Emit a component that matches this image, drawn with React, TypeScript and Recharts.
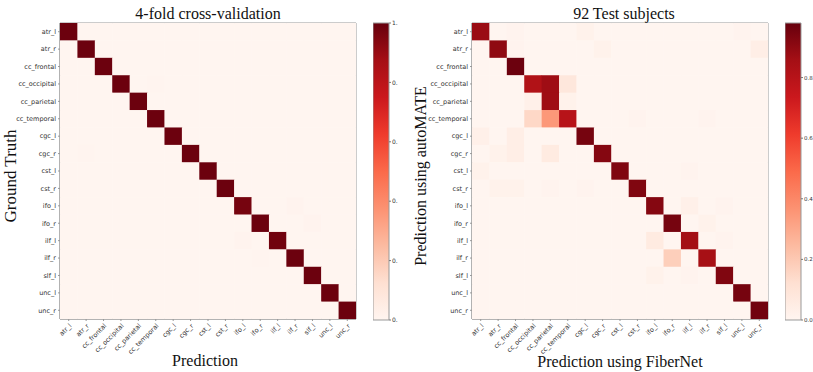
import { ScatterChart, Scatter, XAxis, YAxis, ReferenceArea, BarChart, Bar } from 'recharts';

const labels = ['atr_l', 'atr_r', 'cc_frontal', 'cc_occipital', 'cc_parietal', 'cc_temporal', 'cgc_l', 'cgc_r', 'cst_l', 'cst_r', 'ifo_l', 'ifo_r', 'ilf_l', 'ilf_r', 'slf_l', 'unc_l', 'unc_r'];

// rows = ground truth, columns = prediction
const cvMatrix = [
  [0.99, 0, 0, 0, 0, 0, 0, 0, 0, 0, 0, 0, 0, 0, 0, 0, 0],
  [0, 0.99, 0, 0, 0, 0, 0, 0, 0, 0, 0, 0, 0, 0, 0, 0, 0],
  [0, 0, 0.99, 0, 0, 0, 0, 0, 0, 0, 0, 0, 0, 0, 0, 0, 0],
  [0, 0, 0, 0.99, 0, 0.005, 0, 0, 0, 0, 0, 0, 0, 0, 0, 0, 0],
  [0, 0, 0, 0, 0.99, 0, 0, 0, 0, 0, 0, 0, 0, 0, 0, 0, 0],
  [0, 0, 0, 0, 0, 0.99, 0, 0, 0, 0, 0, 0, 0, 0, 0, 0, 0],
  [0, 0, 0, 0, 0, 0, 0.99, 0, 0, 0, 0, 0, 0, 0, 0, 0, 0],
  [0, 0.005, 0, 0, 0, 0, 0, 0.99, 0, 0, 0, 0, 0, 0, 0, 0, 0],
  [0, 0, 0, 0, 0, 0, 0, 0, 0.99, 0, 0, 0, 0, 0, 0, 0, 0],
  [0, 0, 0, 0, 0, 0, 0, 0, 0, 0.99, 0, 0, 0, 0, 0, 0, 0],
  [0, 0, 0, 0, 0, 0, 0, 0, 0, 0, 0.97, 0, 0, 0.01, 0, 0, 0],
  [0, 0, 0, 0, 0, 0, 0, 0, 0, 0, 0, 0.99, 0, 0, 0.01, 0, 0],
  [0, 0, 0, 0, 0, 0, 0, 0, 0, 0, 0.01, 0, 0.98, 0, 0, 0, 0],
  [0, 0, 0, 0, 0, 0, 0, 0, 0, 0, 0, 0.005, 0, 0.99, 0, 0, 0],
  [0, 0, 0, 0, 0, 0, 0, 0, 0, 0, 0, 0, 0, 0, 0.99, 0, 0],
  [0, 0, 0, 0, 0, 0, 0, 0, 0, 0, 0, 0, 0, 0, 0, 0.99, 0],
  [0, 0, 0, 0, 0, 0, 0, 0, 0, 0, 0, 0, 0, 0, 0, 0, 0.99],
];

// rows = autoMATE, columns = FiberNet
const testMatrix = [
  [0.88, 0, 0.01, 0, 0, 0, 0.02, 0, 0, 0, 0, 0, 0, 0, 0, 0.01, 0],
  [0, 0.9, 0.01, 0, 0, 0, 0, 0.02, 0, 0, 0, 0, 0, 0, 0, 0, 0.04],
  [0, 0, 0.97, 0, 0, 0, 0, 0, 0, 0, 0, 0, 0, 0, 0, 0, 0],
  [0, 0, 0, 0.82, 0.87, 0.08, 0, 0, 0, 0, 0, 0, 0, 0, 0, 0, 0],
  [0, 0, 0, 0.03, 0.87, 0.02, 0, 0, 0, 0, 0, 0, 0, 0, 0, 0, 0],
  [0, 0, 0, 0.15, 0.35, 0.8, 0, 0, 0, 0.01, 0, 0, 0, 0.01, 0, 0, 0],
  [0.03, 0, 0.04, 0, 0, 0, 0.95, 0, 0, 0, 0, 0, 0, 0, 0, 0, 0],
  [0, 0.02, 0.04, 0, 0.06, 0, 0, 0.92, 0, 0, 0, 0, 0, 0, 0, 0, 0],
  [0.02, 0, 0, 0, 0, 0, 0, 0, 0.93, 0, 0, 0, 0.01, 0, 0, 0, 0],
  [0, 0.02, 0.02, 0, 0.01, 0, 0.01, 0, 0, 0.93, 0, 0, 0, 0, 0, 0, 0],
  [0, 0, 0, 0, 0, 0, 0, 0, 0, 0, 0.92, 0, 0.03, 0, 0.01, 0, 0],
  [0, 0, 0, 0, 0, 0, 0, 0, 0, 0, 0, 0.95, 0, 0.02, 0, 0, 0],
  [0, 0, 0, 0, 0, 0, 0, 0, 0, 0, 0.06, 0, 0.86, 0, 0.01, 0, 0],
  [0, 0, 0, 0, 0, 0, 0, 0, 0, 0, 0, 0.18, 0, 0.85, 0, 0, 0],
  [0, 0, 0, 0, 0, 0, 0, 0, 0, 0, 0.02, 0, 0.01, 0, 0.93, 0, 0],
  [0, 0, 0, 0, 0, 0, 0, 0, 0, 0, 0, 0, 0, 0, 0, 0.95, 0],
  [0, 0, 0, 0, 0, 0, 0, 0, 0, 0, 0, 0, 0, 0, 0, 0, 0.96],
];

const cvMax = 1;
const testMax = 0.98;
const cvBarTicks = [0, 0.2, 0.4, 0.6, 0.8, 1];
const testBarTicks = [0, 0.2, 0.4, 0.6, 0.8];
const indexTicks = labels.map((_, i) => i);

// matplotlib "Reds"
const reds = ['#fff5f0', '#fee0d2', '#fcbba1', '#fc9272', '#fb6a4a', '#ef3b2c', '#cb181d', '#a50f15', '#67000d'];

const hex = (c) => [1, 3, 5].map((i) => parseInt(c.slice(i, i + 2), 16));
const redsAt = (t) => {
  const x = Math.max(0, Math.min(1, t)) * (reds.length - 1);
  const i = Math.min(Math.floor(x), reds.length - 2);
  const f = x - i;
  const a = hex(reds[i]);
  const b = hex(reds[i + 1]);
  return `rgb(${a.map((v, k) => Math.round(v + (b[k] - v) * f)).join(',')})`;
};

const PLOT = 296;
const CELL = PLOT / labels.length;
const tickStyle = { fontSize: 6.5, fill: '#333', fontFamily: 'DejaVu Sans' };
const serif = { position: 'absolute', fontFamily: '"Times New Roman", "Liberation Serif", Times, serif', fontSize: 16, color: '#111', whiteSpace: 'nowrap' } as const;

const toCells = (matrix) =>
  matrix.flatMap((row, r) => row.map((v, c) => ({ x: c, y: r, v })));

const Heatmap = ({ matrix, max }) => {
  const cells = toCells(matrix);
  return (
    <ScatterChart width={360} height={372} margin={{ top: 23, right: 4, bottom: 0, left: 0 }}>
      <XAxis
        type="number"
        dataKey="x"
        domain={[-0.5, 16.5]}
        allowDataOverflow
        ticks={indexTicks}
        interval={0}
        tickFormatter={(i) => labels[i]}
        angle={-45}
        textAnchor="end"
        height={53}
        tick={tickStyle}
        tickSize={2}
        stroke="#999"
      />
      <YAxis
        type="number"
        dataKey="y"
        reversed
        domain={[-0.5, 16.5]}
        allowDataOverflow
        ticks={indexTicks}
        interval={0}
        tickFormatter={(i) => labels[i]}
        width={60}
        tick={tickStyle}
        tickSize={2}
        stroke="#999"
      />
      <Scatter
        data={cells}
        isAnimationActive={false}
        shape={(p) => (
          <rect
            x={p.cx - CELL / 2}
            y={p.cy - CELL / 2}
            width={CELL + 0.4}
            height={CELL + 0.4}
            fill={redsAt(p.payload.v / max)}
          />
        )}
      />
      <ReferenceArea x1={-0.5} x2={16.5} y1={-0.5} y2={16.5} fill="none" stroke="#999" strokeWidth={1} ifOverflow="visible" />
    </ScatterChart>
  );
};

const Colorbar = ({ id, max, ticks, fmt, width, fontSize }) => (
  <BarChart width={width} height={372} data={[{ v: max }]} margin={{ top: 23, right: 0, bottom: 52, left: 0 }} barCategoryGap={0}>
    <defs>
      <linearGradient id={id} x1="0" y1="1" x2="0" y2="0">
        {reds.map((c, i) => (
          <stop key={i} offset={i / (reds.length - 1)} stopColor={c} />
        ))}
      </linearGradient>
    </defs>
    <XAxis hide />
    <YAxis
      orientation="right"
      domain={[0, max]}
      ticks={ticks}
      interval={0}
      tickFormatter={fmt}
      width={width - 16}
      tick={{ fontSize, fill: '#333', fontFamily: 'DejaVu Sans' }}
      tickSize={2}
      tickMargin={1}
      axisLine={false}
      stroke="#777"
    />
    <Bar dataKey="v" fill={`url(#${id})`} stroke="#999" strokeWidth={1} isAnimationActive={false} />
  </BarChart>
);

export default function App() {
  return (
    <div style={{ position: 'absolute', left: 0, top: 0, width: 813, height: 372, overflow: 'hidden', background: '#fff' }}>
      <div style={{ position: 'absolute', left: 0, top: 0 }}>
        <Heatmap matrix={cvMatrix} max={cvMax} />
      </div>
      <div style={{ position: 'absolute', left: 373, top: 0 }}>
        <Colorbar id="cvGrad" max={cvMax} ticks={cvBarTicks} fmt={(v) => (v === 1 ? '1.' : '0.')} width={40} fontSize={6} />
      </div>
      <div style={{ position: 'absolute', left: 412, top: 0 }}>
        <Heatmap matrix={testMatrix} max={testMax} />
      </div>
      <div style={{ position: 'absolute', left: 785, top: 0 }}>
        <Colorbar id="testGrad" max={testMax} ticks={testBarTicks} fmt={(v) => v.toFixed(1)} width={44} fontSize={5.5} />
      </div>

      <div style={{ ...serif, left: 208, top: 14, transform: 'translate(-50%, -50%)' }}>4-fold cross-validation</div>
      <div style={{ ...serif, left: 624, top: 14, transform: 'translate(-50%, -50%)' }}>92 Test subjects</div>
      <div style={{ ...serif, left: 205, top: 361, transform: 'translate(-50%, -50%)' }}>Prediction</div>
      <div style={{ ...serif, left: 620, top: 362, transform: 'translate(-50%, -50%)' }}>Prediction using FiberNet</div>
      <div style={{ ...serif, fontSize: 17, left: 11, top: 176, transform: 'translate(-50%, -50%) rotate(-90deg)' }}>Ground Truth</div>
      <div style={{ ...serif, left: 421, top: 176, transform: 'translate(-50%, -50%) rotate(-90deg)' }}>Prediction using autoMATE</div>
    </div>
  );
}
